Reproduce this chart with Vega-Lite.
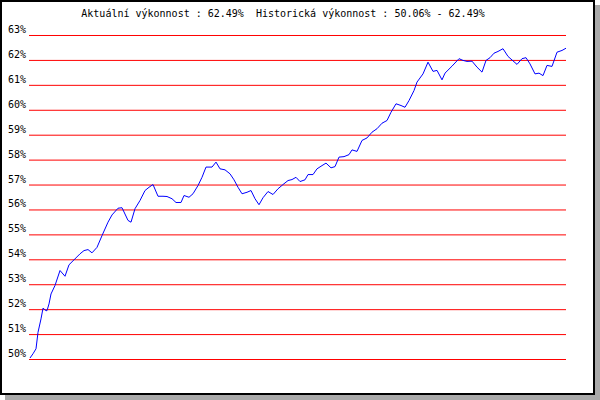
{
  "$schema": "https://vega.github.io/schema/vega-lite/v6.json",
  "autosize": {"type": "none"},
  "width": 593,
  "height": 393,
  "padding": {"left": 1, "top": 1, "right": 6, "bottom": 6},
  "background": "white",
  "config": {
    "view": {"stroke": "black", "strokeWidth": 2, "fill": "white"},
    "font": "DejaVu Sans Mono"
  },
  "datasets": {
    "perf": [
      {"t": 0, "v": 50.06}, {"t": 3, "v": 50.23}, {"t": 6, "v": 50.43}, {"t": 8, "v": 51.09},
      {"t": 11, "v": 51.63}, {"t": 13, "v": 52.06}, {"t": 16, "v": 51.96}, {"t": 17, "v": 51.96},
      {"t": 19, "v": 52.23}, {"t": 21, "v": 52.63}, {"t": 25, "v": 52.97}, {"t": 30, "v": 53.57},
      {"t": 35, "v": 53.34}, {"t": 39, "v": 53.80}, {"t": 45, "v": 54.04}, {"t": 50, "v": 54.24},
      {"t": 54, "v": 54.37}, {"t": 58, "v": 54.41}, {"t": 62, "v": 54.28}, {"t": 67, "v": 54.50},
      {"t": 72, "v": 54.97}, {"t": 78, "v": 55.51}, {"t": 82, "v": 55.80}, {"t": 88, "v": 56.07},
      {"t": 92, "v": 56.09}, {"t": 98, "v": 55.58}, {"t": 101, "v": 55.51}, {"t": 105, "v": 56.05},
      {"t": 110, "v": 56.38}, {"t": 115, "v": 56.78}, {"t": 119, "v": 56.91}, {"t": 123, "v": 57.02},
      {"t": 128, "v": 56.55}, {"t": 133, "v": 56.55}, {"t": 137, "v": 56.54}, {"t": 142, "v": 56.45},
      {"t": 146, "v": 56.30}, {"t": 151, "v": 56.30}, {"t": 154, "v": 56.58}, {"t": 159, "v": 56.51},
      {"t": 163, "v": 56.65}, {"t": 168, "v": 56.98}, {"t": 172, "v": 57.31}, {"t": 176, "v": 57.72},
      {"t": 182, "v": 57.72}, {"t": 186, "v": 57.92}, {"t": 190, "v": 57.65}, {"t": 195, "v": 57.61},
      {"t": 200, "v": 57.45}, {"t": 204, "v": 57.21}, {"t": 208, "v": 56.91}, {"t": 212, "v": 56.65},
      {"t": 217, "v": 56.71}, {"t": 221, "v": 56.78}, {"t": 225, "v": 56.45}, {"t": 229, "v": 56.21},
      {"t": 233, "v": 56.49}, {"t": 238, "v": 56.74}, {"t": 243, "v": 56.62}, {"t": 248, "v": 56.85},
      {"t": 253, "v": 57.02}, {"t": 258, "v": 57.18}, {"t": 262, "v": 57.22}, {"t": 266, "v": 57.31},
      {"t": 270, "v": 57.14}, {"t": 275, "v": 57.21}, {"t": 278, "v": 57.42}, {"t": 283, "v": 57.42},
      {"t": 287, "v": 57.65}, {"t": 292, "v": 57.78}, {"t": 296, "v": 57.88}, {"t": 301, "v": 57.69},
      {"t": 305, "v": 57.74}, {"t": 309, "v": 58.12}, {"t": 314, "v": 58.14}, {"t": 319, "v": 58.22},
      {"t": 322, "v": 58.41}, {"t": 327, "v": 58.35}, {"t": 332, "v": 58.79}, {"t": 337, "v": 58.89},
      {"t": 342, "v": 59.12}, {"t": 347, "v": 59.26}, {"t": 352, "v": 59.48}, {"t": 357, "v": 59.59},
      {"t": 361, "v": 59.92}, {"t": 366, "v": 60.26}, {"t": 371, "v": 60.19}, {"t": 375, "v": 60.12},
      {"t": 379, "v": 60.39}, {"t": 384, "v": 60.79}, {"t": 387, "v": 61.13}, {"t": 393, "v": 61.46},
      {"t": 398, "v": 61.93}, {"t": 403, "v": 61.56}, {"t": 407, "v": 61.60}, {"t": 412, "v": 61.22},
      {"t": 415, "v": 61.49}, {"t": 422, "v": 61.77}, {"t": 429, "v": 62.07}, {"t": 433, "v": 62.00},
      {"t": 437, "v": 61.96}, {"t": 442, "v": 61.97}, {"t": 447, "v": 61.73}, {"t": 452, "v": 61.53},
      {"t": 456, "v": 62.00}, {"t": 460, "v": 62.11}, {"t": 464, "v": 62.29}, {"t": 468, "v": 62.36},
      {"t": 473, "v": 62.47}, {"t": 478, "v": 62.16}, {"t": 487, "v": 61.84}, {"t": 492, "v": 62.07},
      {"t": 496, "v": 62.11}, {"t": 500, "v": 61.86}, {"t": 505, "v": 61.46}, {"t": 509, "v": 61.49},
      {"t": 513, "v": 61.39}, {"t": 517, "v": 61.80}, {"t": 522, "v": 61.76}, {"t": 527, "v": 62.33},
      {"t": 532, "v": 62.40}, {"t": 536, "v": 62.49}
    ],
    "grid": [
      {"v": 50, "lab": "50%"}, {"v": 51, "lab": "51%"}, {"v": 52, "lab": "52%"}, {"v": 53, "lab": "53%"},
      {"v": 54, "lab": "54%"}, {"v": 55, "lab": "55%"}, {"v": 56, "lab": "56%"}, {"v": 57, "lab": "57%"},
      {"v": 58, "lab": "58%"}, {"v": 59, "lab": "59%"}, {"v": 60, "lab": "60%"}, {"v": 61, "lab": "61%"},
      {"v": 62, "lab": "62%"}, {"v": 63, "lab": "63%"}
    ]
  },
  "layer": [
    {
      "data": {"name": "grid"},
      "mark": {"type": "rule", "color": "#ff0000", "strokeWidth": 1},
      "encoding": {
        "x": {"datum": -1, "type": "quantitative", "scale": {"domain": [-29, 564], "nice": false, "zero": false}, "axis": null},
        "x2": {"datum": 536},
        "y": {"field": "v", "type": "quantitative", "scale": {"domain": [48.616, 64.384], "nice": false, "zero": false}, "axis": null}
      }
    },
    {
      "data": {"name": "grid"},
      "mark": {"type": "text", "font": "DejaVu Sans Mono", "fontSize": 10, "color": "black", "align": "right", "baseline": "alphabetic", "dy": -2.5},
      "encoding": {
        "x": {"datum": -4, "type": "quantitative"},
        "y": {"field": "v", "type": "quantitative"},
        "text": {"field": "lab", "type": "nominal"}
      }
    },
    {
      "data": {"values": [{"s": "right"}]},
      "mark": {"type": "rect", "color": "#a9a9a9", "clip": false},
      "encoding": {
        "x": {"datum": 565, "type": "quantitative"},
        "x2": {"datum": 570},
        "y": {"datum": 64.224, "type": "quantitative"},
        "y2": {"datum": 48.375}
      }
    },
    {
      "data": {"values": [{"s": "bottom"}]},
      "mark": {"type": "rect", "color": "#a9a9a9", "clip": false},
      "encoding": {
        "x": {"datum": -25, "type": "quantitative"},
        "x2": {"datum": 570},
        "y": {"datum": 48.575, "type": "quantitative"},
        "y2": {"datum": 48.375}
      }
    },
    {
      "data": {"name": "perf"},
      "mark": {"type": "line", "color": "#0000ff", "strokeWidth": 1},
      "encoding": {
        "x": {"field": "t", "type": "quantitative"},
        "y": {"field": "v", "type": "quantitative"}
      }
    },
    {
      "data": {"values": [{"s": "title"}]},
      "mark": {"type": "text", "font": "DejaVu Sans Mono", "fontSize": 10, "color": "black", "align": "center", "baseline": "alphabetic",
        "text": "Aktuální výkonnost : 62.49%\u00a0 Historická výkonnost : 50.06% - 62.49%"},
      "encoding": {
        "x": {"datum": 253, "type": "quantitative"},
        "y": {"datum": 63.76, "type": "quantitative"}
      }
    }
  ]
}
